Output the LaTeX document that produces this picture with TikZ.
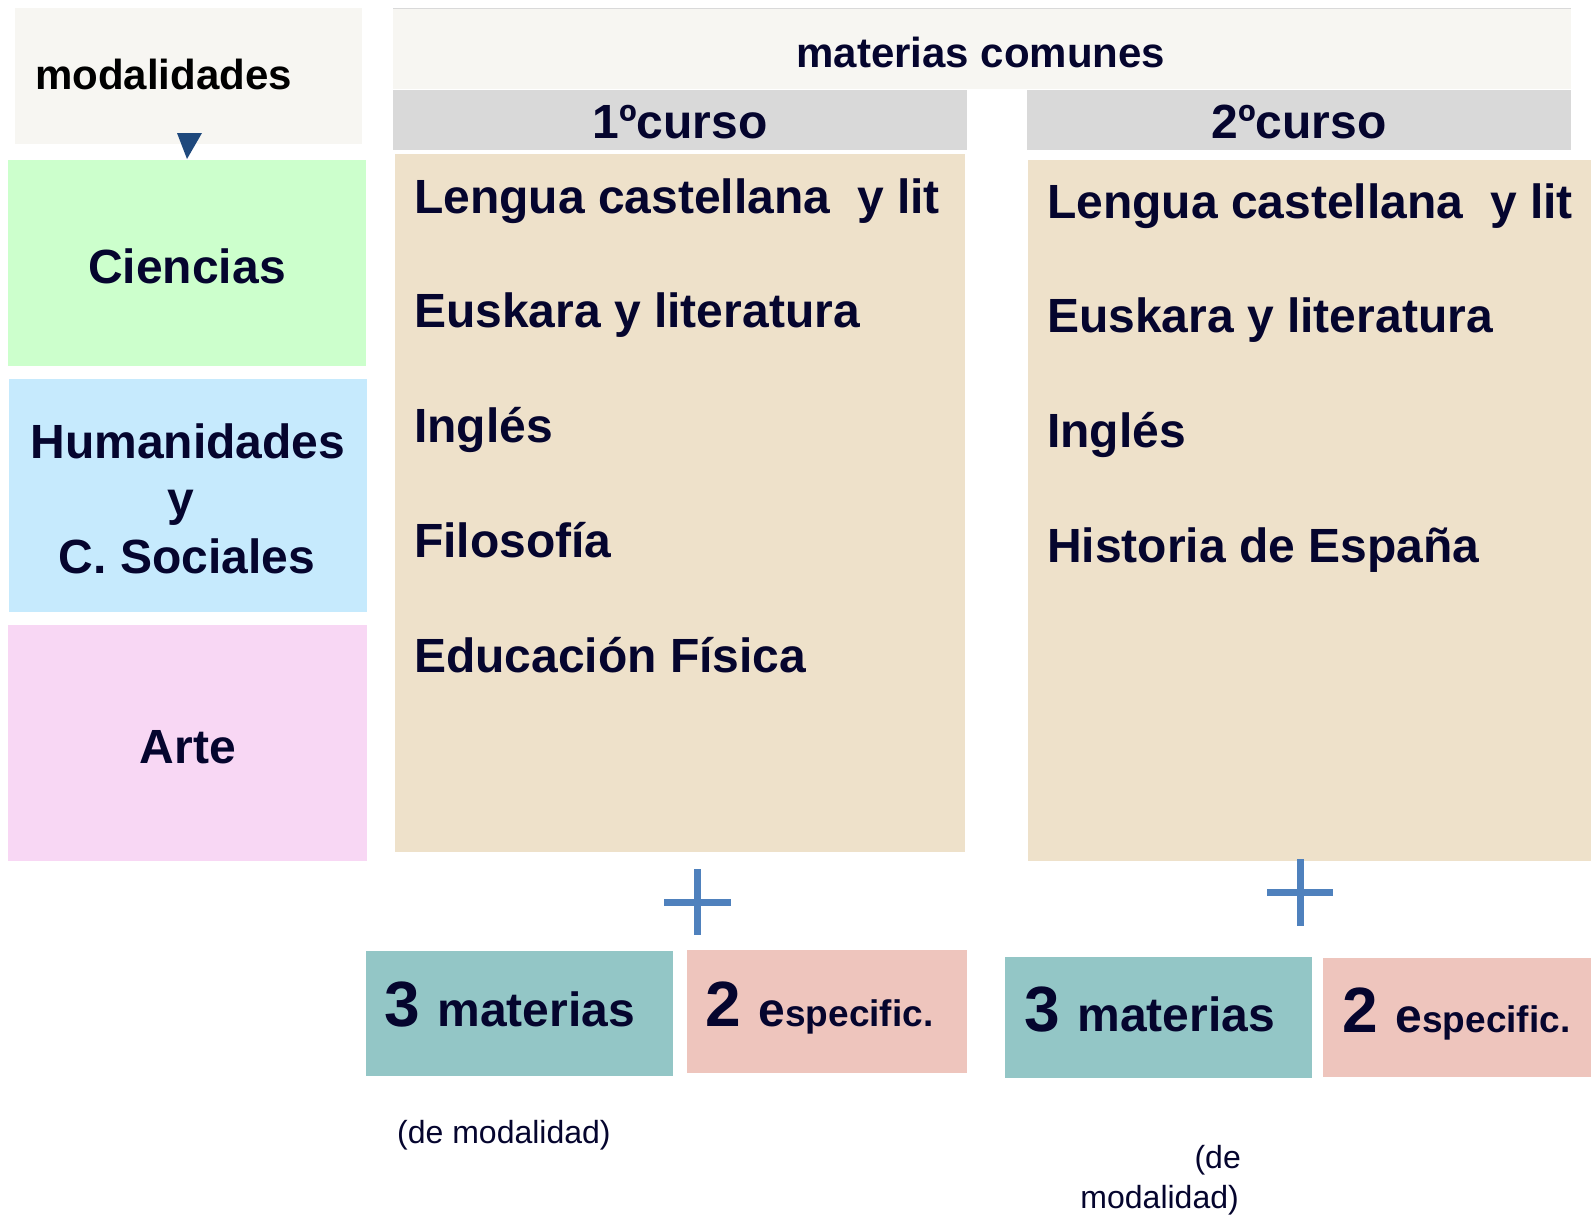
\documentclass[tikz,border=0pt]{standalone}
\usepackage{fontspec}
\setmainfont{Liberation Sans}
\usepackage{xcolor}
\usepackage{tikz}

\definecolor{navy}{HTML}{05052E}
\definecolor{paper}{HTML}{F7F6F2}
\definecolor{headgrey}{HTML}{D9D9D9}
\definecolor{tan}{HTML}{EEE1CA}
\definecolor{cienc}{HTML}{CCFFCC}
\definecolor{human}{HTML}{C6EAFD}
\definecolor{arte}{HTML}{F8D7F4}
\definecolor{teal}{HTML}{93C6C6}
\definecolor{salmon}{HTML}{EEC5BD}
\definecolor{plusblue}{HTML}{4F81BD}
\definecolor{tipblue}{HTML}{1F497D}

\begin{document}
\begin{tikzpicture}[x=1pt,y=-1pt,
    lbl/.style={inner sep=0pt, anchor=base, text=navy, font=\bfseries\fontsize{48}{48}\selectfont},
    item/.style={lbl, anchor=base west},
    note/.style={inner sep=0pt, text=navy, font=\fontsize{32}{32}\selectfont},
    plus/.style={draw=plusblue, line width=7pt}]
    \useasboundingbox (0,0) rectangle (1591,1215);

    % Draw header boxes
    \fill[paper] (15,8) rectangle (362,144);
    \fill[paper] (393,8) rectangle (1571,89);
    \draw[line width=1pt, color=black!15] (393,8.5) -- (1571,8.5);
    \fill[headgrey] (393,90) rectangle (967,150);
    \fill[headgrey] (1027,90) rectangle (1571,150);
    \node[inner sep=0pt, anchor=base west, font=\bfseries\fontsize{42}{42}\selectfont] (modal) at (35,89) {modalidades};
    \fill[tipblue] (177,133) -- (202,133) -- (187,159) -- cycle;
    \node[lbl, font=\bfseries\fontsize{42}{42}\selectfont] (comunes) at (981,67) {materias comunes};
    \node[lbl] (curso1) at (680,139) {1ºcurso};
    \node[lbl] (curso2) at (1299,139) {2ºcurso};

    % Draw modalidades
    \fill[cienc] (8,160) rectangle (366,366);
    \fill[human] (9,379) rectangle (367,612);
    \fill[arte] (8,625) rectangle (367,861);
    \node[lbl] (cien) at (187,283) {Ciencias};
    \node[lbl] (hum) at (188,458) {Humanidades};
    \node[lbl] (humy) at (181,515) {y};
    \node[lbl] (humsoc) at (187,573) {C. Sociales};
    \node[lbl] (arte) at (188,763) {Arte};

    % Draw materias comunes
    \fill[tan] (395,154) rectangle (965,852);
    \fill[tan] (1028,160) rectangle (1591,861);
    \foreach \txt [count=\i] in {Lengua castellana\ \ y lit, Euskara y literatura, Inglés, Filosofía, Educación Física}
        \node[item] (uno\i) at (414,{213+114.75*(\i-1)}) {\txt};
    \foreach \txt [count=\i] in {Lengua castellana\ \ y lit, Euskara y literatura, Inglés, Historia de España}
        \node[item] (dos\i) at (1047,{218+114.75*(\i-1)}) {\txt};

    % Draw plus signs
    \draw[plus] (697,869) -- (697,935);
    \draw[plus] (664,902) -- (731,902);
    \draw[plus] (1300,859) -- (1300,926);
    \draw[plus] (1267,892) -- (1333,892);

    % Draw materias de modalidad y especificas
    \fill[teal] (366,951) rectangle (673,1076);
    \fill[salmon] (687,950) rectangle (967,1073);
    \fill[teal] (1005,957) rectangle (1312,1078);
    \fill[salmon] (1323,958) rectangle (1591,1077);
    \node[item] (mat1) at (384,1026) {{\fontsize{64}{64}\selectfont 3 }materias};
    \node[item] (esp1) at (705,1026) {{\fontsize{64}{64}\selectfont 2 }e{\fontsize{37}{37}\selectfont specific.}};
    \node[item] (mat2) at (1024,1031) {{\fontsize{64}{64}\selectfont 3 }materias};
    \node[item] (esp2) at (1342,1032) {{\fontsize{64}{64}\selectfont 2 }e{\fontsize{37}{37}\selectfont specific.}};
    \node[note, anchor=base west] (demod1) at (397,1143) {(de modalidad)};
    \node[note, anchor=base east] (demod2) at (1241,1168) {(de};
    \node[note, anchor=base east] (demod3) at (1239,1208) {modalidad)};
\end{tikzpicture}
\end{document}
